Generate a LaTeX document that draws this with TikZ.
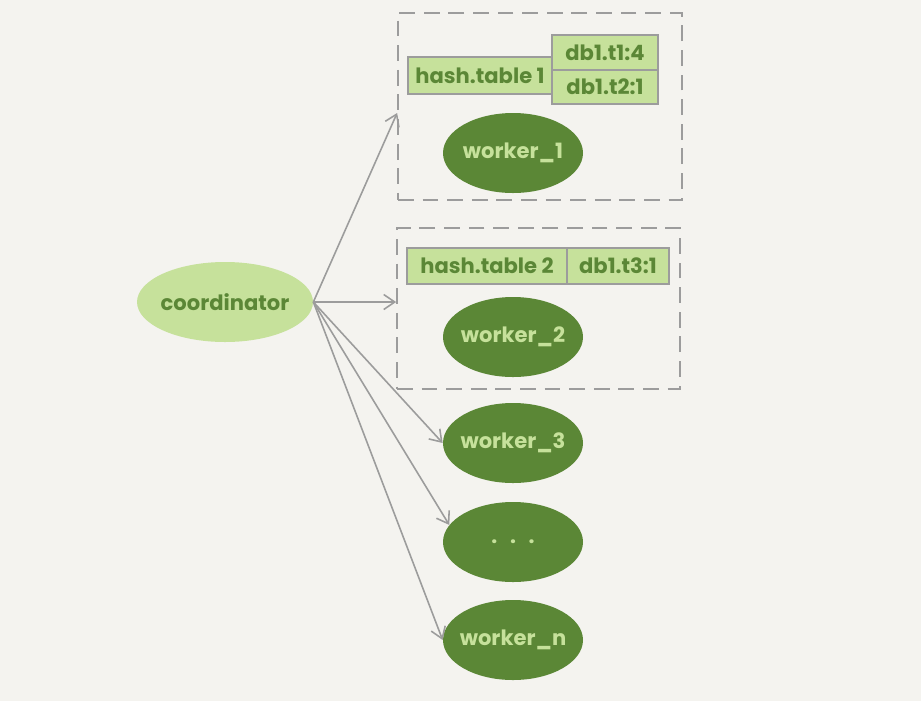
\documentclass[tikz,border=0pt]{standalone}
\usepackage{fontspec}
\setmainfont{Poppins}
\usepackage{tikz}
\usetikzlibrary{arrows.meta,positioning,shapes,calc}
\definecolor{bgpaper}{HTML}{F4F3EF}
\definecolor{leafdark}{HTML}{5B8736}
\definecolor{leaflight}{HTML}{C6E19B}
\definecolor{linegray}{HTML}{9C9C9C}
\newcommand{\wlabel}[1]{\makebox[0pt][c]{#1}}

\begin{document}
\begin{tikzpicture}[
  coord/.style={ellipse, fill=leaflight, text=leafdark, inner sep=0pt, minimum width=3.52cm, minimum height=1.6cm, font=\bfseries\large},
  worker/.style={ellipse, fill=leafdark, text=leaflight, inner sep=0pt, minimum width=2.8cm, minimum height=1.6cm, font=\bfseries\large},
  group/.style={draw=linegray, dashed, dash pattern=on 9pt off 5pt, line width=1pt, inner sep=0pt},
  cell/.style={draw=linegray, fill=leaflight, text=leafdark, line width=0.9pt, inner sep=0pt, font=\bfseries\large},
  arrow/.style={-{Straight Barb[length=2.2mm,width=3mm]}, linegray, line width=0.9pt},
  >=Stealth
]

% fond et cadre
\fill[bgpaper] (0,0) rectangle (18.42,-14.02);
\useasboundingbox (0,0) rectangle (18.42,-14.02);

% coordinateur
\node[coord] (coordinator) at (4.5,-6.04) {\wlabel{coordinator}};

% groupe 1
\node[group, minimum width=5.68cm, minimum height=3.74cm] (grp1) at (10.8,-2.13) {};
\node[cell, minimum width=2.88cm, minimum height=0.74cm] (hash1) at (9.6,-1.51) {hash.table 1};
\node[cell, minimum width=2.12cm, minimum height=0.70cm] (t1) at (12.1,-1.05) {db1.t1:4};
\node[cell, minimum width=2.12cm, minimum height=0.68cm] (t2) at (12.1,-1.74) {db1.t2:1};
\node[worker] (worker1) at (10.26,-3.06) {\wlabel{worker\_1}};

% groupe 2
\node[group, minimum width=5.66cm, minimum height=3.22cm] (grp2) at (10.77,-6.17) {};
\node[cell, minimum width=3.2cm, minimum height=0.72cm] (hash2) at (9.74,-5.32) {hash.table 2};
\node[cell, minimum width=2.04cm, minimum height=0.72cm] (t3) at (12.36,-5.32) {db1.t3:1};
\node[worker] (worker2) at (10.26,-6.74) {\wlabel{worker\_2}};

% autres workers
\node[worker] (worker3) at (10.26,-8.86) {\wlabel{worker\_3}};
\node[worker] (workerdots) at (10.26,-10.84) {.\hspace{0.6em}.\hspace{0.6em}.};
\node[worker] (workern) at (10.26,-12.8) {\wlabel{worker\_n}};

% points d'arrivee sur les cadres
\coordinate (in1) at ($(grp1.west)+(0,-0.13)$);
\coordinate (in2) at ($(grp2.west)+(0,0.13)$);

% fleches
\draw[arrow] (coordinator.east) -- (in1);
\draw[arrow] (coordinator.east) -- (in2);
\draw[arrow] (coordinator.east) -- (worker3.west);
\draw[arrow] (coordinator.east) -- (workerdots.165);
\draw[arrow] (coordinator.east) -- (workern.west);

\end{tikzpicture}
\end{document}
